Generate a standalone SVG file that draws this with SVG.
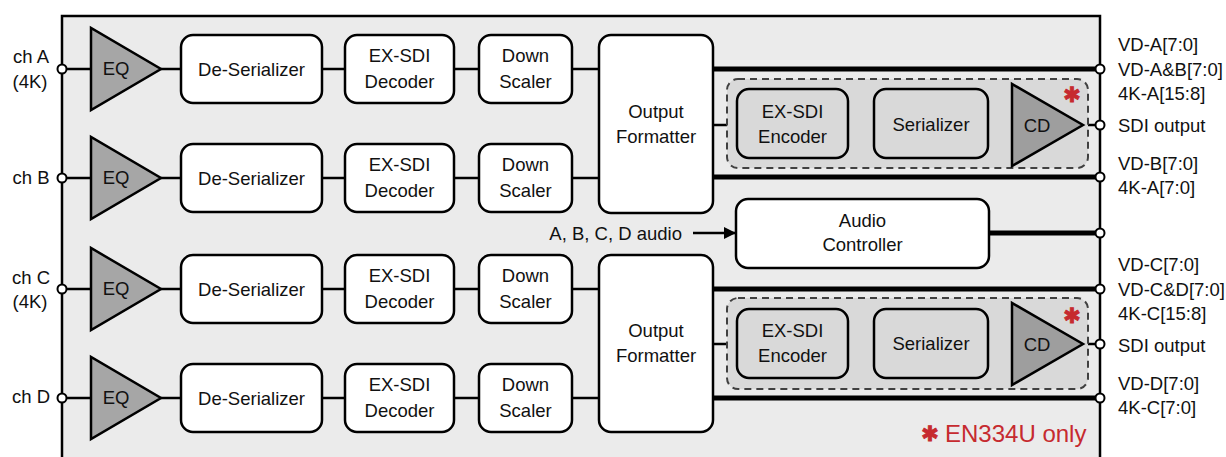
<svg xmlns="http://www.w3.org/2000/svg" width="1226" height="457" viewBox="0 0 1226 457">
<defs>
<style>
text{font-family:"Liberation Sans",Arial,sans-serif;font-size:18.5px;fill:#111}
.c{text-anchor:middle}
.box{fill:#fff;stroke:#000;stroke-width:2.5}
.gbox{fill:#d9d9d9;stroke:#000;stroke-width:2.5}
.dash{fill:#d9d9d9;stroke:#404040;stroke-width:2;stroke-dasharray:7 5}
.eq{fill:#a6a6a6;stroke:#000;stroke-width:2.5;stroke-linejoin:miter}
.cd{fill:#9e9e9e;stroke:#000;stroke-width:2.5}
.w{stroke:#000;stroke-width:2.5;fill:none}
.t{stroke:#000;stroke-width:5;fill:none}
.pin{fill:#fff;stroke:#000;stroke-width:2}
.ast{font-family:"DejaVu Sans",sans-serif;font-size:21px;fill:#c62a2f;stroke:#c62a2f;stroke-width:0.8;text-anchor:middle}
</style>
<marker id="arr" viewBox="0 0 10 10" refX="10" refY="5" markerWidth="13" markerHeight="12" markerUnits="userSpaceOnUse" orient="auto"><path d="M0,0L10,5L0,10z" fill="#000"/></marker>
</defs>
<g id="chip"><rect x="62" y="16" width="1038" height="460" fill="#ebebeb" stroke="#000" stroke-width="2.5"/></g>

<g id="connectors">
<path class="w" d="M62,69H91M161,69H181M322,69H345M454,69H479M572,69H599"/>
<path class="w" d="M62,178H91M161,178H181M322,178H345M454,178H479M572,178H599"/>
<path class="w" d="M62,289H91M161,289H181M322,289H345M454,289H479M572,289H599"/>
<path class="w" d="M62,398H91M161,398H181M322,398H345M454,398H479M572,398H599"/>
<path class="t" d="M713,69H1100M713,177H1100M713,289H1100M713,398H1100M989,233H1100"/>
<path class="w" d="M713,125H737M848,125H874M988,125H1012M1083,125H1100"/>
<path class="w" d="M713,344H737M848,344H874M988,344H1012M1083,344H1100"/>
<line x1="693" y1="233" x2="736" y2="233" stroke="#000" stroke-width="2.5" marker-end="url(#arr)"/>
</g>

<g id="enc-group-a"><rect class="dash" x="727" y="79" width="361" height="89" rx="11"/></g>
<g id="enc-group-c"><rect class="dash" x="727" y="298" width="361" height="91" rx="11"/></g>

<g id="pins">
<circle class="pin" cx="62" cy="69" r="4.5"/><circle class="pin" cx="62" cy="178" r="4.5"/>
<circle class="pin" cx="62" cy="289" r="4.5"/><circle class="pin" cx="62" cy="398" r="4.5"/>
<circle class="pin" cx="1100" cy="69" r="4.5"/><circle class="pin" cx="1100" cy="125" r="4.5"/>
<circle class="pin" cx="1100" cy="177" r="4.5"/><circle class="pin" cx="1100" cy="233" r="4.5"/>
<circle class="pin" cx="1100" cy="289" r="4.5"/><circle class="pin" cx="1100" cy="344" r="4.5"/>
<circle class="pin" cx="1100" cy="398" r="4.5"/>
</g>

<g id="eq-a"><polygon class="eq" points="91,28 91,110 161,69"/><text class="c" x="116" y="75">EQ</text></g>
<g id="eq-b"><polygon class="eq" points="91,137 91,219 161,178"/><text class="c" x="116" y="184">EQ</text></g>
<g id="eq-c"><polygon class="eq" points="91,248 91,330 161,289"/><text class="c" x="116" y="295">EQ</text></g>
<g id="eq-d"><polygon class="eq" points="91,357 91,439 161,398"/><text class="c" x="116" y="404">EQ</text></g>

<g id="deser-a"><rect class="box" x="181" y="35" width="141" height="68" rx="12"/><text class="c" x="251.5" y="75.5">De-Serializer</text></g>
<g id="deser-b"><rect class="box" x="181" y="144" width="141" height="68" rx="12"/><text class="c" x="251.5" y="184.5">De-Serializer</text></g>
<g id="deser-c"><rect class="box" x="181" y="255" width="141" height="68" rx="12"/><text class="c" x="251.5" y="295.5">De-Serializer</text></g>
<g id="deser-d"><rect class="box" x="181" y="364" width="141" height="68" rx="12"/><text class="c" x="251.5" y="404.5">De-Serializer</text></g>

<g id="dec-a"><rect class="box" x="345" y="35" width="109" height="68" rx="12"/><text class="c" x="399.5" y="61.5">EX-SDI</text><text class="c" x="399.5" y="87.5">Decoder</text></g>
<g id="dec-b"><rect class="box" x="345" y="144" width="109" height="68" rx="12"/><text class="c" x="399.5" y="170.5">EX-SDI</text><text class="c" x="399.5" y="196.5">Decoder</text></g>
<g id="dec-c"><rect class="box" x="345" y="255" width="109" height="68" rx="12"/><text class="c" x="399.5" y="281.5">EX-SDI</text><text class="c" x="399.5" y="307.5">Decoder</text></g>
<g id="dec-d"><rect class="box" x="345" y="364" width="109" height="68" rx="12"/><text class="c" x="399.5" y="390.5">EX-SDI</text><text class="c" x="399.5" y="416.5">Decoder</text></g>

<g id="ds-a"><rect class="box" x="479" y="35" width="93" height="68" rx="12"/><text class="c" x="525.5" y="61.5">Down</text><text class="c" x="525.5" y="87.5">Scaler</text></g>
<g id="ds-b"><rect class="box" x="479" y="144" width="93" height="68" rx="12"/><text class="c" x="525.5" y="170.5">Down</text><text class="c" x="525.5" y="196.5">Scaler</text></g>
<g id="ds-c"><rect class="box" x="479" y="255" width="93" height="68" rx="12"/><text class="c" x="525.5" y="281.5">Down</text><text class="c" x="525.5" y="307.5">Scaler</text></g>
<g id="ds-d"><rect class="box" x="479" y="364" width="93" height="68" rx="12"/><text class="c" x="525.5" y="390.5">Down</text><text class="c" x="525.5" y="416.5">Scaler</text></g>

<g id="of-ab"><rect class="box" x="599" y="35" width="114" height="178" rx="12"/><text class="c" x="656" y="117.5">Output</text><text class="c" x="656" y="142.5">Formatter</text></g>
<g id="of-cd"><rect class="box" x="599" y="255" width="114" height="177" rx="12"/><text class="c" x="656" y="337">Output</text><text class="c" x="656" y="362">Formatter</text></g>

<g id="enc-a"><rect class="gbox" x="737" y="89" width="111" height="69" rx="12"/><text class="c" x="792.5" y="117.5">EX-SDI</text><text class="c" x="792.5" y="142.5">Encoder</text></g>
<g id="ser-a"><rect class="gbox" x="874" y="89" width="114" height="69" rx="12"/><text class="c" x="931" y="130.5">Serializer</text></g>
<g id="cd-a"><polygon class="cd" points="1012,84 1012,166 1083,125"/><text class="c" x="1037" y="131.5">CD</text><text class="ast" x="1072" y="102">✱</text></g>

<g id="enc-c"><rect class="gbox" x="737" y="309" width="111" height="69" rx="12"/><text class="c" x="792.5" y="337">EX-SDI</text><text class="c" x="792.5" y="362">Encoder</text></g>
<g id="ser-c"><rect class="gbox" x="874" y="309" width="114" height="69" rx="12"/><text class="c" x="931" y="350">Serializer</text></g>
<g id="cd-c"><polygon class="cd" points="1012,303 1012,385 1083,344"/><text class="c" x="1037" y="350.5">CD</text><text class="ast" x="1072" y="323">✱</text></g>

<g id="audio"><rect class="box" x="736" y="199" width="253" height="69" rx="12"/><text class="c" x="862.5" y="227">Audio</text><text class="c" x="862.5" y="250.5">Controller</text></g>
<g id="audio-in"><text x="682" y="239.5" text-anchor="end">A, B, C, D audio</text></g>

<g id="in-labels">
<text class="c" x="31" y="63">ch A</text><text class="c" x="30" y="87.5">(4K)</text>
<text class="c" x="31" y="184">ch B</text>
<text class="c" x="31" y="283.5">ch C</text><text class="c" x="30" y="308">(4K)</text>
<text class="c" x="31" y="403">ch D</text>
</g>

<g id="out-labels">
<text x="1118" y="51">VD-A[7:0]</text>
<text x="1118" y="76">VD-A&amp;B[7:0]</text>
<text x="1118" y="99.5">4K-A[15:8]</text>
<text x="1118" y="132">SDI output</text>
<text x="1118" y="170">VD-B[7:0]</text>
<text x="1118" y="194">4K-A[7:0]</text>
<text x="1118" y="271">VD-C[7:0]</text>
<text x="1118" y="296">VD-C&amp;D[7:0]</text>
<text x="1118" y="320">4K-C[15:8]</text>
<text x="1118" y="351.5">SDI output</text>
<text x="1118" y="390">VD-D[7:0]</text>
<text x="1118" y="414">4K-C[7:0]</text>
</g>

<g id="legend"><text class="ast" x="930" y="441">✱</text><text x="945" y="442" style="font-size:24px;fill:#c62a2f">EN334U only</text></g>
</svg>
